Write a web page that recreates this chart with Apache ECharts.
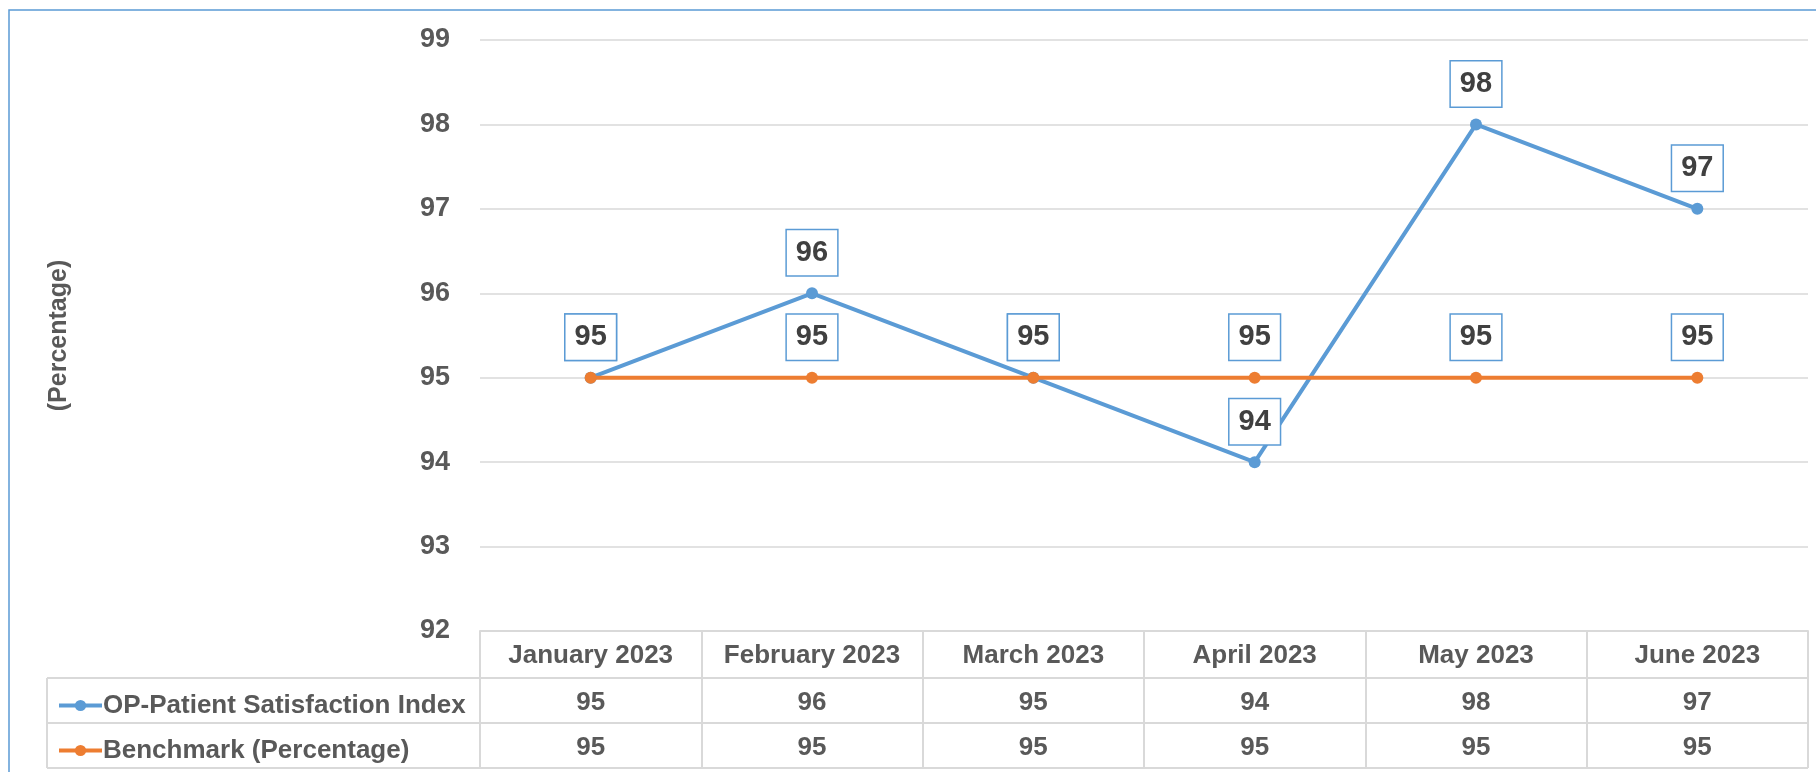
<!DOCTYPE html>
<html>
<head>
<meta charset="utf-8">
<script src="https://cdn.jsdelivr.net/npm/echarts@6/dist/echarts.min.js"></script>
<style>
html,body{margin:0;padding:0;background:#fff;}
#chart{width:1816px;height:772px;}
</style>
</head>
<body>
<div id="chart"></div>
<script>
const categories = ['January 2023','February 2023','March 2023','April 2023','May 2023','June 2023'];
const opIndex = [95, 96, 95, 94, 98, 97];
const benchmark = [95, 95, 95, 95, 95, 95];
const seriesNames = ['OP-Patient Satisfaction Index', 'Benchmark (Percentage)'];
const yAxisName = '(Percentage)';
const yMin = 92, yMax = 99, yStep = 1;

const FONT = "'Liberation Sans Narrow', 'Liberation Sans', Arial, sans-serif";
const BLUE = '#5B9BD5', ORANGE = '#ED7D31', GRID = '#D9D9D9', TXT = '#595959';

const G = {left: 480, right: 8, top: 40, bottom: 141};
const W = 1816, H = 772;
const tableTop = H - G.bottom;           // 631
const rowH = [47, 45, 45];
const tableLeft = 47;

const chart = echarts.init(document.getElementById('chart'), null, {renderer: 'canvas'});

function labelStyle() {
  return {
    show: true, position: 'top', distance: 12,
    fontFamily: FONT, fontSize: 29, fontWeight: 'bold', color: '#404040',
    backgroundColor: '#fff', borderColor: BLUE, borderWidth: 1.5,
    lineHeight: 29, padding: [8, 9, 8, 9]
  };
}

const TFS = 26;
const tableAxisLabel = {
  fontFamily: FONT, fontSize: TFS, fontWeight: 'bold', color: TXT,
  lineHeight: TFS, margin: 12, interval: 0
};

const y1 = tableTop + rowH[0];
const y2 = y1 + rowH[1];
const y3 = y2 + rowH[2];
const xRight = W - G.right;

chart.setOption({
  animation: false,
  backgroundColor: '#fff',
  grid: {left: G.left, right: G.right, top: G.top, bottom: G.bottom},
  legend: {
    orient: 'vertical', left: 52, top: tableTop + rowH[0] + rowH[1]/2 - TFS/2,
    itemWidth: 43, itemHeight: 14, itemGap: rowH[1] - TFS,
    lineStyle: {width: 4},
    textStyle: {fontFamily: FONT, fontSize: TFS, fontWeight: 'bold', color: TXT, lineHeight: TFS, padding: [0,0,0,-4]},
    data: seriesNames
  },
  xAxis: [
    {
      type: 'category', data: categories, position: 'bottom',
      axisLine: {show: true, lineStyle: {color: GRID, width: 2}},
      axisTick: {show: true, length: rowH[0]+rowH[1]+rowH[2], lineStyle: {color: GRID, width: 2}},
      axisLabel: Object.assign({}, tableAxisLabel, {margin: 12}),
      splitLine: {show: false}
    },
    {
      type: 'category', data: opIndex.map(String), position: 'bottom', offset: rowH[0],
      axisLine: {show: false}, axisTick: {show: false},
      axisLabel: tableAxisLabel, splitLine: {show: false}
    },
    {
      type: 'category', data: benchmark.map(String), position: 'bottom', offset: rowH[0]+rowH[1],
      axisLine: {show: false}, axisTick: {show: false},
      axisLabel: tableAxisLabel, splitLine: {show: false}
    }
  ],
  yAxis: {
    type: 'value', min: yMin, max: yMax, interval: yStep,
    name: yAxisName, nameLocation: 'middle', nameGap: 408, nameRotate: 90,
    nameTextStyle: {fontFamily: FONT, fontSize: 25, fontWeight: 'bold', color: TXT},
    axisLine: {show: false}, axisTick: {show: false},
    axisLabel: {fontFamily: FONT, fontSize: 27, fontWeight: 'bold', color: TXT, margin: 30},
    splitLine: {show: true, lineStyle: {color: GRID, width: 1.5}}
  },
  series: [
    {
      name: seriesNames[0], type: 'line', data: opIndex,
      symbol: 'circle', symbolSize: 12,
      lineStyle: {color: BLUE, width: 4}, itemStyle: {color: BLUE},
      label: labelStyle(), z: 3
    },
    {
      name: seriesNames[1], type: 'line', data: benchmark,
      symbol: 'circle', symbolSize: 12,
      lineStyle: {color: ORANGE, width: 4}, itemStyle: {color: ORANGE},
      label: labelStyle(), z: 4
    }
  ],
  graphic: [
    {type: 'rect', silent: true, z: -1, shape: {x: 9, y: 10, width: W + 50, height: H + 50},
     style: {fill: null, stroke: BLUE, lineWidth: 1.5}},
    {type: 'line', silent: true, shape: {x1: tableLeft, y1: y1, x2: xRight, y2: y1}, style: {stroke: GRID, lineWidth: 2}},
    {type: 'line', silent: true, shape: {x1: tableLeft, y1: y2, x2: xRight, y2: y2}, style: {stroke: GRID, lineWidth: 2}},
    {type: 'line', silent: true, shape: {x1: tableLeft, y1: y3, x2: xRight, y2: y3}, style: {stroke: GRID, lineWidth: 2}},
    {type: 'line', silent: true, shape: {x1: tableLeft, y1: y1, x2: tableLeft, y2: y3}, style: {stroke: GRID, lineWidth: 2}},
    {type: 'line', silent: true, shape: {x1: xRight, y1: tableTop, x2: xRight, y2: y3}, style: {stroke: GRID, lineWidth: 2}}
  ]
});
</script>
</body>
</html>
